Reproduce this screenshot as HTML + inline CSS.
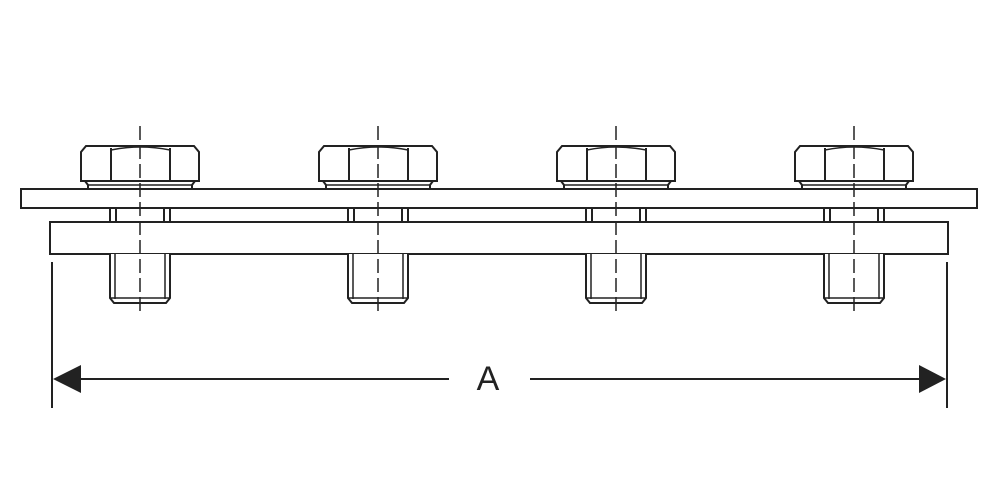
<!DOCTYPE html>
<html><head><style>html,body{margin:0;padding:0;background:#fff;width:1000px;height:500px;overflow:hidden}</style></head>
<body>
<svg width="1000" height="500" viewBox="0 0 1000 500" xmlns="http://www.w3.org/2000/svg">
<defs>
<g id="bolt" fill="none" stroke="#222" stroke-width="2">
  <!-- hex head -->
  <path d="M-59,181 L-59,152 L-54,146 L54,146 L59,152 L59,181 Z" fill="#fff"/>
  <path d="M-29,148 L-29,181 M30,148 L30,181"/>
  <path d="M-29,150 Q0,144 30,150" stroke-width="1.5"/>
  <path d="M-55,181 L-52,185 L-52,189 M55,181 L52,185 L52,189"/>
  <path d="M-52,185 L52,185" stroke-width="1.5"/>
  <!-- shank between plates -->
  <path d="M-30,208 L-30,222 M30,208 L30,222 M-24,208 L-24,222 M24,208 L24,222"/>
  <!-- shank below -->
  <path d="M-30,254 L-30,298 L-26,303 L26,303 L30,298 L30,254" fill="#fff"/>
  <path d="M-25,254 L-25,299 M25,254 L25,299 M-30,298 L30,298" stroke-width="1.5"/>
  <!-- centerline -->
  <path d="M0,126 L0,313" stroke-width="1.5" stroke-dasharray="14,5"/>
</g>
</defs>
<g fill="#fff" stroke="#222" stroke-width="2">
  <rect x="21" y="189" width="956" height="19"/>
  <rect x="50" y="222" width="898" height="32"/>
</g>
<use href="#bolt" x="140"/>
<use href="#bolt" x="378"/>
<use href="#bolt" x="616"/>
<use href="#bolt" x="854"/>
<g stroke="#222" stroke-width="2">
  <line x1="52" y1="262" x2="52" y2="408"/>
  <line x1="947" y1="262" x2="947" y2="408"/>
  <line x1="70" y1="379" x2="449" y2="379"/>
  <line x1="530" y1="379" x2="930" y2="379"/>
</g>
<polygon points="53,379 81,365 81,393" fill="#222"/>
<polygon points="946,379 919,365 919,393" fill="#222"/>
<text x="488" y="390" font-family="Liberation Sans, sans-serif" font-size="34" text-anchor="middle" fill="#222">A</text>
</svg>
</body></html>
